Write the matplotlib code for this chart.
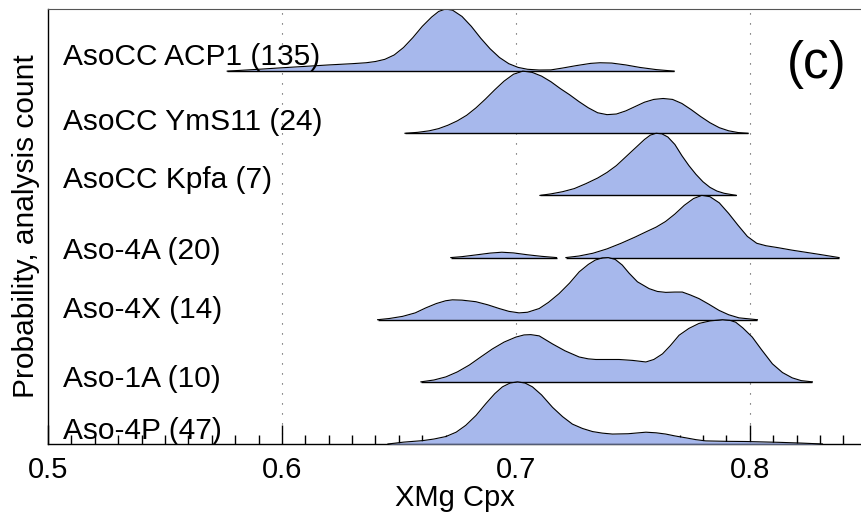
import numpy as np
import matplotlib.pyplot as plt

# Ridgeline of XMg Cpx densities, one row per sample
plt.rcParams['font.family'] = ['Liberation Sans', 'DejaVu Sans']

labels = ["AsoCC ACP1 (135)", "AsoCC YmS11 (24)", "AsoCC Kpfa (7)", "Aso-4A (20)",
          "Aso-4X (14)", "Aso-1A (10)", "Aso-4P (47)"]
label_y = [6.10, 5.06, 4.12, 2.98, 2.02, 0.92, 0.08]

acp1_x = [0.5766, 0.590, 0.600, 0.610, 0.620, 0.630, 0.636, 0.640, 0.644, 0.648, 0.652, 0.656,
          0.660, 0.664, 0.667, 0.670, 0.673, 0.677, 0.681, 0.685, 0.689, 0.693, 0.697, 0.701,
          0.705, 0.710, 0.715, 0.720, 0.726, 0.732, 0.736, 0.741, 0.747, 0.753, 0.760, 0.7677]
acp1_y = [0.0, 0.03, 0.054, 0.077, 0.10, 0.12, 0.135, 0.155, 0.19, 0.26, 0.38, 0.54,
          0.72, 0.87, 0.96, 1.0, 0.98, 0.88, 0.72, 0.53, 0.36, 0.22, 0.12, 0.06,
          0.03, 0.018, 0.02, 0.05, 0.09, 0.125, 0.135, 0.13, 0.10, 0.06, 0.025, 0.0]

yms11_x = [0.6526, 0.658, 0.663, 0.667, 0.671, 0.675, 0.679, 0.683, 0.687, 0.691, 0.695, 0.699,
           0.703, 0.707, 0.711, 0.715, 0.719, 0.723, 0.727, 0.731, 0.735, 0.739, 0.743, 0.747,
           0.751, 0.755, 0.759, 0.763, 0.767, 0.771, 0.775, 0.779, 0.783, 0.787, 0.791, 0.795,
           0.7993]
yms11_y = [0.0, 0.015, 0.04, 0.075, 0.13, 0.20, 0.29, 0.41, 0.55, 0.70, 0.84, 0.95,
           1.0, 0.98, 0.92, 0.83, 0.72, 0.62, 0.51, 0.41, 0.33, 0.30, 0.31, 0.36,
           0.43, 0.50, 0.545, 0.56, 0.545, 0.48, 0.38, 0.27, 0.17, 0.09, 0.04, 0.012,
           0.0]

kpfa_x = [0.7103, 0.715, 0.720, 0.725, 0.730, 0.735, 0.739, 0.743, 0.747, 0.751, 0.755, 0.7575,
          0.760, 0.7625, 0.765, 0.768, 0.771, 0.774, 0.777, 0.780, 0.783, 0.786, 0.789, 0.7943]
kpfa_y = [0.0, 0.025, 0.06, 0.11, 0.19, 0.28, 0.37, 0.48, 0.62, 0.76, 0.90, 0.97,
          1.0, 0.99, 0.94, 0.82, 0.64, 0.48, 0.34, 0.22, 0.13, 0.07, 0.035, 0.0]

aso4a_x_minor = [0.6722, 0.677, 0.683, 0.689, 0.694, 0.699, 0.705, 0.711, 0.7174]
aso4a_y_minor = [0.0, 0.015, 0.043, 0.072, 0.086, 0.075, 0.045, 0.02, 0.0]
aso4a_x = [0.7214, 0.727, 0.733, 0.739, 0.745, 0.751, 0.756, 0.760, 0.764, 0.768, 0.772, 0.776,
           0.7795, 0.783, 0.787, 0.791, 0.795, 0.799, 0.803, 0.807, 0.812, 0.818, 0.824, 0.830,
           0.8382]
aso4a_y = [0.0, 0.025, 0.07, 0.14, 0.23, 0.33, 0.42, 0.49, 0.58, 0.70, 0.84, 0.95,
           1.0, 0.98, 0.88, 0.71, 0.52, 0.34, 0.23, 0.19, 0.16, 0.12, 0.085, 0.05,
           0.0]

aso4x_x = [0.6409, 0.646, 0.6516, 0.657, 0.6615, 0.666, 0.670, 0.6729, 0.677, 0.6829, 0.688,
           0.6929, 0.697, 0.7014, 0.705, 0.710, 0.714, 0.7185, 0.723, 0.7271, 0.731, 0.734,
           0.737, 0.7395, 0.7425, 0.7455, 0.7484, 0.752, 0.757, 0.7605, 0.7641, 0.768, 0.7712,
           0.7745, 0.7783, 0.7825, 0.7869, 0.791, 0.7954, 0.8033]
aso4x_y = [0.0, 0.02, 0.054, 0.11, 0.19, 0.26, 0.305, 0.32, 0.315, 0.29, 0.24,
           0.18, 0.135, 0.11, 0.12, 0.18, 0.28, 0.42, 0.59, 0.77, 0.89, 0.96,
           0.995, 1.0, 0.97, 0.88, 0.75, 0.61, 0.50, 0.455, 0.44, 0.445, 0.445,
           0.40, 0.34, 0.25, 0.15, 0.08, 0.03, 0.0]

aso1a_x = [0.6594, 0.665, 0.6701, 0.675, 0.6801, 0.685, 0.690, 0.695, 0.700, 0.7035, 0.7064,
           0.710, 0.7157, 0.721, 0.7271, 0.731, 0.7342, 0.739, 0.7442, 0.750, 0.7556, 0.759,
           0.7627, 0.766, 0.7698, 0.774, 0.7783, 0.783, 0.7883, 0.7915, 0.794, 0.797, 0.8011,
           0.805, 0.8097, 0.814, 0.8182, 0.822, 0.8268]
aso1a_y = [0.0, 0.03, 0.08, 0.16, 0.27, 0.40, 0.53, 0.64, 0.72, 0.755, 0.76,
           0.74, 0.61, 0.50, 0.40, 0.37, 0.36, 0.36, 0.36, 0.345, 0.32, 0.36,
           0.45, 0.58, 0.75, 0.86, 0.94, 0.98, 1.0, 0.99, 0.96, 0.87, 0.72,
           0.52, 0.29, 0.15, 0.064, 0.02, 0.0]

aso4p_x = [0.6453, 0.652, 0.6601, 0.665, 0.6701, 0.6745, 0.6786, 0.683, 0.6872, 0.691, 0.6943,
           0.6975, 0.7007, 0.704, 0.7071, 0.711, 0.7157, 0.720, 0.7242, 0.7285, 0.7328, 0.737,
           0.7413, 0.748, 0.7556, 0.760, 0.7641, 0.768, 0.7726, 0.777, 0.7812, 0.790, 0.7983,
           0.805, 0.8125, 0.822, 0.8311]
aso4p_y = [0.0, 0.03, 0.054, 0.08, 0.12, 0.19, 0.30, 0.46, 0.65, 0.81, 0.92,
           0.98, 1.0, 0.98, 0.92, 0.79, 0.59, 0.44, 0.32, 0.25, 0.20, 0.175,
           0.16, 0.165, 0.19, 0.18, 0.16, 0.13, 0.10, 0.07, 0.05, 0.043, 0.04,
           0.034, 0.027, 0.015, 0.0]

# top row first, offset 6 .. 0
rows = [
    [(acp1_x, acp1_y)],
    [(yms11_x, yms11_y)],
    [(kpfa_x, kpfa_y)],
    [(aso4a_x_minor, aso4a_y_minor), (aso4a_x, aso4a_y)],
    [(aso4x_x, aso4x_y)],
    [(aso1a_x, aso1a_y)],
    [(aso4p_x, aso4p_y)],
]

fill_col = '#a7b8ec'

fig = plt.figure(figsize=(8.62, 5.17), dpi=100)
ax = fig.add_axes([48/862, 1 - 444/517, 1 - 48/862, (444 - 9)/517])

for xv in [0.6, 0.7, 0.8]:
    ax.axvline(xv, color='#444444', lw=0.8, linestyle=(0, (1, 8)), zorder=1)

n = len(rows)
for i, segs in enumerate(rows):
    off = n - 1 - i
    for xs, hs in segs:
        xs = np.array(xs); hs = np.array(hs)
        ax.fill_between(xs, off, off + hs, color=fill_col, lw=0, zorder=2 + i)
        ax.plot(xs, off + hs, color='black', lw=0.8, zorder=2.5 + i)
        ax.plot([xs[0], xs[-1]], [off, off], color='black', lw=1.0, zorder=2.5 + i,
                solid_capstyle='butt')

for lab, ly in zip(labels, label_y):
    ax.text(0.5064, ly, lab, fontsize=21.5, va='baseline', ha='left', zorder=20)

ax.text(0.8286, 6.1, "(c)", fontsize=37, ha='center', va='center', zorder=20)

ax.set_xlim(0.5, 0.848)
ax.set_ylim(0, 7.0)
ax.set_yticks([])
ax.set_xticks([0.5, 0.6, 0.7, 0.8])
ax.set_xticklabels(["0.5", "0.6", "0.7", "0.8"])
ax.set_xticks(np.arange(0.51, 0.848, 0.01), minor=True)
ax.tick_params(axis='x', which='major', direction='in', length=14, width=1, labelsize=21, pad=9)
ax.tick_params(axis='x', which='minor', direction='in', length=6.5, width=1)
for t in ax.xaxis.get_major_ticks() + ax.xaxis.get_minor_ticks():
    t.tick1line.set_zorder(30)

ax.spines['right'].set_visible(False)
ax.spines['top'].set_color('#555555')
ax.spines['left'].set_linewidth(1)
ax.spines['bottom'].set_linewidth(1)

ax.set_xlabel("XMg Cpx", fontsize=21, labelpad=0)
ax.set_ylabel("Probability, analysis count", fontsize=21.5, labelpad=6)

fig.savefig("out.png", dpi=100)
